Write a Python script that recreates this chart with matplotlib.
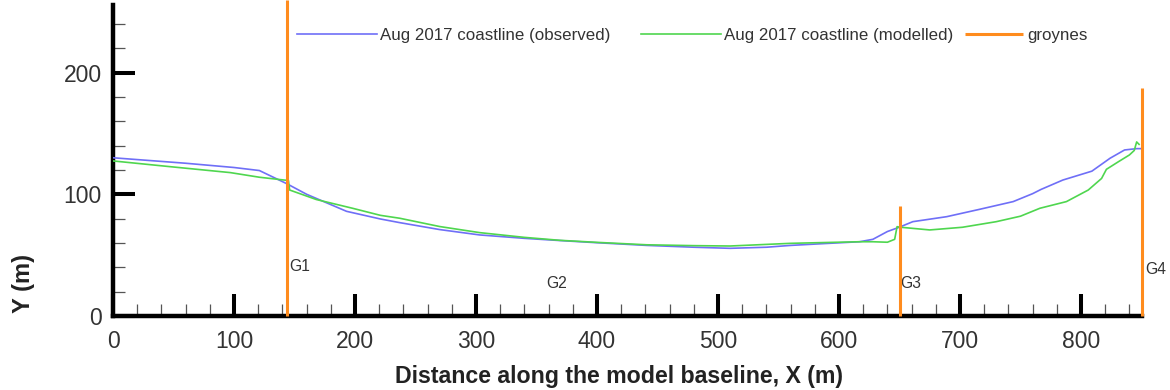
import matplotlib
matplotlib.use("Agg")
import matplotlib.pyplot as plt
from matplotlib.ticker import MultipleLocator
from matplotlib.lines import Line2D

plt.rcParams['font.family'] = ['Liberation Sans', 'DejaVu Sans']

# Observed August 2017 coastline (distance along baseline, offshore position)
obs_x = [0, 20, 60, 100, 121, 144, 160, 193, 221, 237, 270, 303, 340, 369, 400,
         441, 480, 510, 540, 560, 590, 617, 628, 640, 650, 661, 689, 716, 744,
         760, 767, 785, 809, 824, 836, 846, 850]
obs_y = [130, 128.5, 125.5, 122, 119.5, 108.5, 100, 86, 79.7, 76.7, 71, 66.6, 63.8,
         62, 60.2, 58, 56.5, 55.6, 56.5, 58, 59.6, 61, 63, 69.4, 73, 77.5, 81.6,
         87.6, 94, 100.5, 104, 111.7, 119, 129.6, 136.4, 137.5, 137.5]

# Modelled August 2017 coastline
mod_x = [0, 47, 97, 121, 145, 146, 168, 198, 221, 237, 270, 303, 340, 369, 400,
         441, 480, 510, 560, 590, 617, 628, 640, 646, 648, 650, 675, 702, 730,
         750, 766, 788, 806, 817, 821, 831, 840, 844, 846, 848]
mod_y = [127.4, 122.7, 117.8, 114, 111.3, 103.5, 95.7, 88.5, 82.7, 80.3, 73.5,
         68.5, 64.6, 62.2, 60.5, 58.5, 57.8, 57.5, 59.7, 60.4, 61, 61, 60.6, 63,
         73.4, 73, 70.7, 72.9, 77.5, 82, 88.5, 94, 103.5, 113, 120.5, 126.8,
         132.3, 136, 143, 141]

# Groyne positions and their seaward extent
groyne_x = [144, 650, 850]
groyne_top = [260, 90, 187]
groyne_names = ["G1", "G2", "G3", "G4"]
groyne_label_x = [146, 358, 651, 853]
groyne_label_y = [41, 27, 27, 38]

blue = '#6f6ff7'
green = '#4fd64f'
orange = '#ff8c1e'
txt = '#333333'

fig = plt.figure(figsize=(11.7, 3.9), dpi=100)
ax = fig.add_axes([113 / 1170, 74 / 390, 1028.5 / 1170, 311 / 390])

ax.plot(obs_x, obs_y, color=blue, lw=1.2, label='Aug 2017 coastline (observed)', zorder=3)
ax.plot(mod_x, mod_y, color=green, lw=1.2, label='Aug 2017 coastline (modelled)', zorder=3)
for gx, gt in zip(groyne_x, groyne_top):
    ax.plot([gx, gx], [0, gt], color=orange, lw=2.2, solid_capstyle='butt',
            zorder=4, clip_on=False)

for name, lx, ly in zip(groyne_names, groyne_label_x, groyne_label_y):
    ax.text(lx, ly, name, fontsize=11.3, color=txt, ha='left', va='center')

ax.set_xlim(0, 850)
ax.set_ylim(0, 255.5)

for side in ('top', 'right'):
    ax.spines[side].set_visible(False)
for side in ('left', 'bottom'):
    ax.spines[side].set_linewidth(3.2)
    ax.spines[side].set_color('black')
    ax.spines[side].set_capstyle('projecting')

ax.xaxis.set_major_locator(MultipleLocator(100))
ax.xaxis.set_minor_locator(MultipleLocator(20))
ax.yaxis.set_major_locator(MultipleLocator(100))
ax.yaxis.set_minor_locator(MultipleLocator(20))

ax.tick_params(which='major', direction='in', length=15.5, width=2.9, color='black',
               labelsize=16.5, labelcolor=txt)
ax.tick_params(which='minor', direction='in', length=8.6, width=0.9, color='#555555')
ax.tick_params(axis='x', which='major', pad=10)
ax.tick_params(axis='y', which='major', pad=8)

ax.set_xlabel('Distance along the model baseline, X (m)', fontsize=16.7, fontweight='bold',
              color='#222222')
ax.xaxis.set_label_coords(0.492, -0.158)
ax.xaxis.label.set_va('top')
ax.set_ylabel('Y (m)', fontsize=17, fontweight='bold', color='#222222')
ax.yaxis.set_label_coords(-0.0875, 0.106)
ax.yaxis.label.set_va('center')

leg = ax.legend(loc='center left', bbox_to_anchor=(0.179, 0.9035), ncol=2, frameon=False,
                fontsize=12.2, handlelength=4.7, handletextpad=0.2, columnspacing=1.8,
                borderpad=0, borderaxespad=0, labelcolor=txt)
ax.add_artist(leg)
groyne_handle = Line2D([], [], color=orange, lw=2.2, solid_capstyle='butt')
ax.legend([groyne_handle], ['groynes'], loc='center left',
          bbox_to_anchor=((965 - 113) / 1028.5, 0.9035), frameon=False,
          fontsize=12.2, handlelength=3.4, handletextpad=0.3,
          borderpad=0, borderaxespad=0, labelcolor=txt)

fig.savefig('out.png', dpi=100)
